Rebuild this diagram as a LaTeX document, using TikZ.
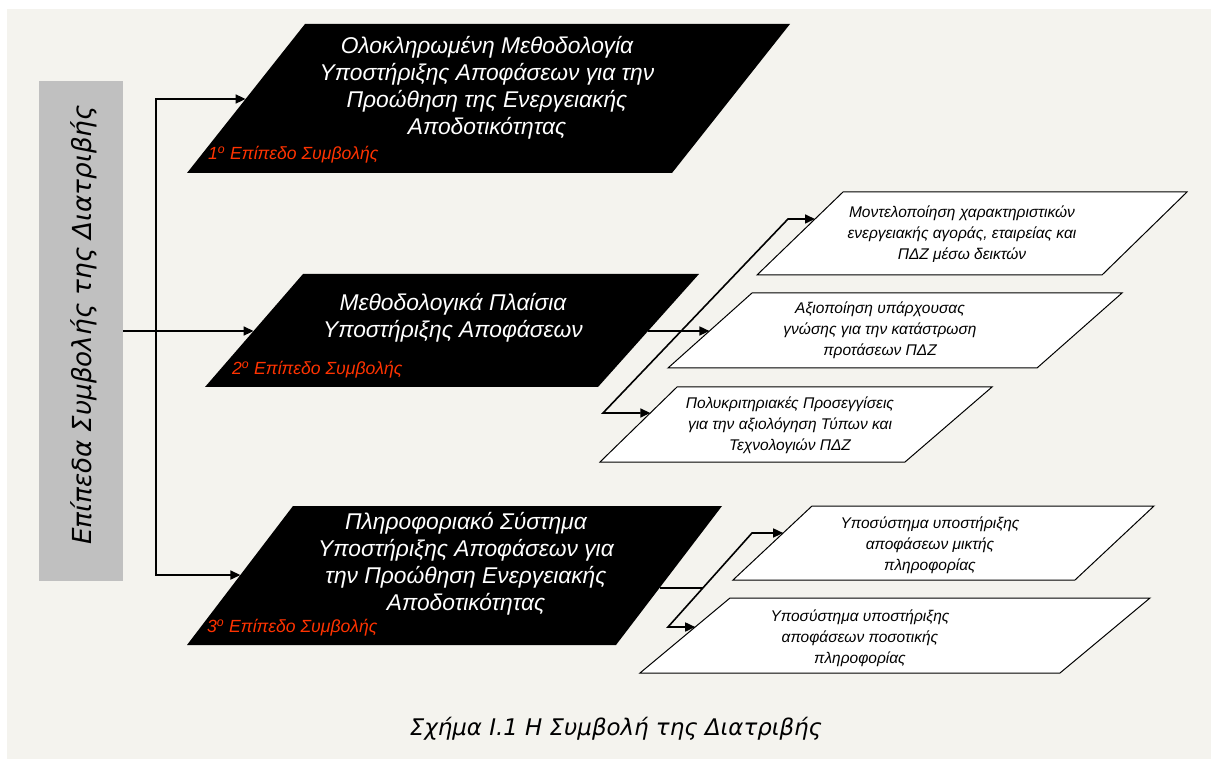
\documentclass[tikz,border=0pt]{standalone}
\usepackage{fontspec}
\setmainfont{Liberation Sans}
\newfontfamily\capfont{DejaVu Sans}
\usetikzlibrary{arrows.meta,calc}

\definecolor{canvas}{RGB}{244,243,238}
\definecolor{panelgray}{RGB}{192,192,192}
\definecolor{levelred}{RGB}{255,51,0}

\tikzset{
  darkshape/.style={fill=black},
  lightshape/.style={fill=white,draw=black,line width=1pt,line join=miter},
  link/.style={draw=black,line width=1.6pt},
  tip/.tip={Triangle[length=10pt,width=9pt]},
  bigtext/.style={text=white,font=\fontsize{22.8}{27}\selectfont\itshape,align=center,inner sep=0pt},
  smalltext/.style={text=black,font=\fontsize{15.5}{21}\selectfont\itshape,align=center,inner sep=0pt},
  levellabel/.style={text=levelred,font=\fontsize{17.6}{20}\selectfont\itshape,anchor=west,inner sep=0pt},
  captext/.style={font=\capfont\fontsize{22.9}{27}\selectfont\slshape,inner sep=0pt}
}

\begin{document}
\begin{tikzpicture}[x=1pt,y=-1pt]
  % page and canvas
  \fill[white] (0,0) rectangle (1211,759);
  \fill[canvas] (7,9) rectangle (1211,759);
  \useasboundingbox (0,0) rectangle (1211,759);

  % left panel
  \node[fill=panelgray,minimum width=84pt,minimum height=500pt,inner sep=0pt] (panel) at (81,331) {};
  \node[captext,font=\capfont\fontsize{26.2}{30}\selectfont\slshape,rotate=90] (paneltext) at (84,325)
    {Επίπεδα Συμβολής της Διατριβής};

  % corner points of the parallelograms
  \coordinate (b1tl) at (305,24);  \coordinate (b1tr) at (790,24);
  \coordinate (b1br) at (672,173); \coordinate (b1bl) at (187,173);
  \coordinate (b2tl) at (303,274); \coordinate (b2tr) at (699,274);
  \coordinate (b2br) at (598,387); \coordinate (b2bl) at (205,387);
  \coordinate (b3tl) at (293,506); \coordinate (b3tr) at (722,506);
  \coordinate (b3br) at (616,645); \coordinate (b3bl) at (187,645);

  \coordinate (w1tl) at (843,192);  \coordinate (w1tr) at (1187,192);
  \coordinate (w1br) at (1102,275); \coordinate (w1bl) at (757,275);
  \coordinate (w2tl) at (752,293);  \coordinate (w2tr) at (1122,293);
  \coordinate (w2br) at (1037,368); \coordinate (w2bl) at (668,368);
  \coordinate (w3tl) at (677,387);  \coordinate (w3tr) at (992,387);
  \coordinate (w3br) at (905,462);  \coordinate (w3bl) at (600,462);
  \coordinate (w4tl) at (812,506);  \coordinate (w4tr) at (1154,506);
  \coordinate (w4br) at (1075,580); \coordinate (w4bl) at (733,580);
  \coordinate (w5tl) at (730,598);  \coordinate (w5tr) at (1150,598);
  \coordinate (w5br) at (1060,673); \coordinate (w5bl) at (640,673);

  % black level boxes
  \fill[darkshape] (b1tl) -- (b1tr) -- (b1br) -- (b1bl) -- cycle;
  \fill[darkshape] (b2tl) -- (b2tr) -- (b2br) -- (b2bl) -- cycle;
  \fill[darkshape] (b3tl) -- (b3tr) -- (b3br) -- (b3bl) -- cycle;

  % white sub-boxes
  \foreach \w in {w1,w2,w3,w4,w5}
    \draw[lightshape] (\w tl) -- (\w tr) -- (\w br) -- (\w bl) -- cycle;

  % texts of the level boxes
  \node[bigtext] (b1) at (487,88)
    {Ολοκληρωμένη Μεθοδολογία\\Υποστήριξης Αποφάσεων για την\\Προώθηση της Ενεργειακής\\Αποδοτικότητας};
  \node[bigtext] (b2) at (453,318)
    {Μεθοδολογικά Πλαίσια\\Υποστήριξης Αποφάσεων};
  \node[bigtext] (b3) at (466,564)
    {Πληροφοριακό Σύστημα\\Υποστήριξης Αποφάσεων για\\την Προώθηση Ενεργειακής\\Αποδοτικότητας};

  \node[levellabel] (l1) at (208,155) {1\textsuperscript{ο} Επίπεδο Συμβολής};
  \node[levellabel] (l2) at (232,370) {2\textsuperscript{ο} Επίπεδο Συμβολής};
  \node[levellabel] (l3) at (207,628) {3\textsuperscript{ο} Επίπεδο Συμβολής};

  % texts of the sub-boxes
  \node[smalltext] (w1) at (962,234)
    {Μοντελοποίηση χαρακτηριστικών\\ενεργειακής αγοράς, εταιρείας και\\ΠΔΖ μέσω δεικτών};
  \node[smalltext] (w2) at (880,330)
    {Αξιοποίηση υπάρχουσας\\γνώσης για την κατάστρωση\\προτάσεων ΠΔΖ};
  \node[smalltext] (w3) at (790,425)
    {Πολυκριτηριακές Προσεγγίσεις\\για την αξιολόγηση Τύπων και\\Τεχνολογιών ΠΔΖ};
  \node[smalltext] (w4) at (930,545)
    {Υποσύστημα υποστήριξης\\αποφάσεων μικτής\\πληροφορίας};
  \node[smalltext] (w5) at (860,638)
    {Υποσύστημα υποστήριξης\\αποφάσεων ποσοτικής\\πληροφορίας};

  % connector end points on the slanted edges
  \coordinate (hub) at (156,331);
  \coordinate (b1in) at (intersection of b1tl--b1bl and 0,99--1200,99);
  \coordinate (b2in) at (intersection of b2tl--b2bl and 0,331--1200,331);
  \coordinate (b3in) at (intersection of b3tl--b3bl and 0,575--1200,575);
  \coordinate (b2out) at (intersection of b2tr--b2br and 0,331--1200,331);
  \coordinate (b3out) at (intersection of b3tr--b3br and 0,588--1200,588);
  \coordinate (w1in) at (intersection of w1tl--w1bl and 0,219--1200,219);
  \coordinate (w2in) at (intersection of w2tl--w2bl and 0,331--1200,331);
  \coordinate (w3in) at (intersection of w3tl--w3bl and 0,413--1200,413);
  \coordinate (w4in) at (intersection of w4tl--w4bl and 0,533--1200,533);
  \coordinate (w5in) at (intersection of w5tl--w5bl and 0,627--1200,627);
  \coordinate (za) at (788,219);
  \coordinate (zb) at (603,413);
  \coordinate (zc) at (752,533);
  \coordinate (zd) at (668,627);
  \coordinate (zm) at (intersection of zc--zd and 0,588--1200,588);

  % connectors
  \draw[link] (panel.east) -- (hub);
  \draw[link,-tip] (hub) |- (b1in);
  \draw[link,-tip] (hub) -- (b2in);
  \draw[link,-tip] (hub) |- (b3in);
  \draw[link,-tip] (b2out) -- (w2in);
  \draw[link,tip-tip] (w1in) -- (za) -- (zb) -- (w3in);
  \draw[link,tip-tip] (w4in) -- (zc) -- (zd) -- (w5in);
  \draw[link] (b3out) -- (zm);

  % caption
  \node[captext] (caption) at (616,729) {Σχήμα Ι.1 Η Συμβολή της Διατριβής};
\end{tikzpicture}
\end{document}
